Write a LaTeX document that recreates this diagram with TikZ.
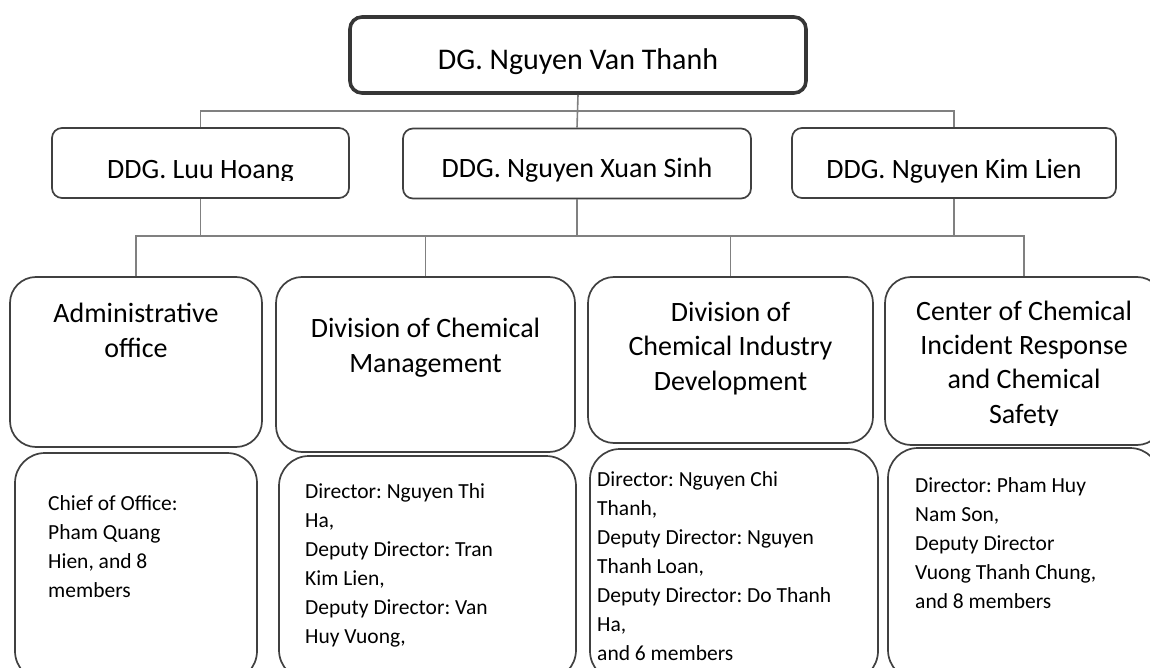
\documentclass[tikz,border=0pt]{standalone}
\usepackage{fontspec}
\setmainfont{Carlito}
\frenchspacing
\definecolor{boxc}{HTML}{404040}
\definecolor{linec}{HTML}{808080}
\begin{document}
\begin{tikzpicture}[x={(1pt,0)},y={(0,-1pt)},
  box/.style={draw=boxc, line width=1.7pt, inner sep=0, fill=none},
  dgbox/.style={draw=boxc!85!black, line width=3.6pt, rounded corners=12pt, inner sep=0},
  ddgbox/.style={box, rounded corners=10pt},
  divbox/.style={box, rounded corners=26pt},
  infobox/.style={box, rounded corners=30pt},
  conn/.style={draw=linec, line width=1.6pt},
  bigtxt/.style={inner sep=0, anchor=base, font=\fontsize{30}{36}\selectfont},
  midtxt/.style={inner sep=0, anchor=base, align=center, font=\fontsize{28}{34.2}\selectfont},
  smalltxt/.style={inner sep=0, anchor=base west, align=left, font=\fontsize{21.5}{29}\selectfont}]
\useasboundingbox (0,0) rectangle (1150,668);
\clip (0,0) rectangle (1150,668);
\fill[white] (0,0) rectangle (1150,668);

% boxes
\node[dgbox, minimum width=456pt, minimum height=76pt] (dg) at (578,55) {};
\node[ddgbox, minimum width=297pt, minimum height=70pt] (ddgL) at (200.5,163) {};
\node[ddgbox, minimum width=348pt, minimum height=70pt] (ddgM) at (577,163.5) {};
\node[ddgbox, minimum width=324pt, minimum height=70pt] (ddgR) at (954,163) {};

\node[divbox, minimum width=252pt, minimum height=170pt] (adm) at (136,362) {};
\node[divbox, minimum width=299pt, minimum height=175pt] (cm) at (425.5,364.5) {};
\node[divbox, minimum width=285pt, minimum height=166pt] (ind) at (730.5,360) {};
\node[divbox, minimum width=278pt, minimum height=168pt] (ctr) at (1024,361) {};

\node[infobox, minimum width=242pt, minimum height=228pt] (b1) at (136,567) {};
\node[infobox, minimum width=297pt, minimum height=224pt] (b2) at (427.5,568) {};
\node[infobox, minimum width=288pt, minimum height=232pt] (b3) at (734,565) {};
\node[infobox, minimum width=272pt, minimum height=232pt] (b4) at (1024,564) {};

% connectors
\coordinate (bus1) at (578,111);
\coordinate (bus2) at (577,236);
\draw[conn] (dg.south) -- (ddgM.north);
\draw[conn] (ddgL.north) |- (bus1) -| (ddgR.north);
\draw[conn] (adm.north) |- (bus2) -| (ctr.north);
\draw[conn] (ddgL.south) -- (ddgL.south |- bus2);
\draw[conn] (ddgM.south) -- (ddgM.south |- bus2);
\draw[conn] (ddgR.south) -- (ddgR.south |- bus2);
\draw[conn] (cm.north) -- (cm.north |- bus2);
\draw[conn] (ind.north) -- (ind.north |- bus2);

% texts (anchor base = baseline of the last line)
\node[bigtxt] (tdg) at (578,70) {DG. Nguyen Van Thanh};
\begin{scope}
\clip (52,128) rectangle (349,180.5);
\node[midtxt] (tddgL) at (200.5,179) {DDG. Luu Hoang};
\end{scope}
\node[midtxt] (tddgM) at (577,178) {DDG. Nguyen Xuan Sinh};
\node[midtxt] (tddgR) at (954,179) {DDG. Nguyen Kim Lien};

\node[midtxt] (tadm) at (136,357) {Administrative\\office};
\node[midtxt] (tcm) at (425.5,372) {Division of Chemical\\Management};
\node[midtxt] (tind) at (730.5,390) {Division of\\Chemical Industry\\Development};
\begin{scope}
\clip (885,277) rectangle (1150,425);
\node[midtxt] (tctr) at (1024,423) {Center of Chemical\\Incident Response\\and Chemical\\Safety};
\end{scope}

\node[smalltxt] (tb1) at (48,597) {Chief of Office:\\Pham Quang\\Hien, and 8\\members};
\node[smalltxt] (tb2) at (305,643) {Director: Nguyen Thi\\Ha,\\Deputy Director: Tran\\Kim Lien,\\Deputy Director: Van\\Huy Vuong,};
\node[smalltxt] (tb3) at (597,660) {Director: Nguyen Chi\\Thanh,\\Deputy Director: Nguyen\\Thanh Loan,\\Deputy Director: Do Thanh\\Ha,\\and 6 members};
\node[smalltxt] (tb4) at (915,608) {Director: Pham Huy\\Nam Son,\\Deputy Director\\Vuong Thanh Chung,\\and 8 members};
\end{tikzpicture}
\end{document}
